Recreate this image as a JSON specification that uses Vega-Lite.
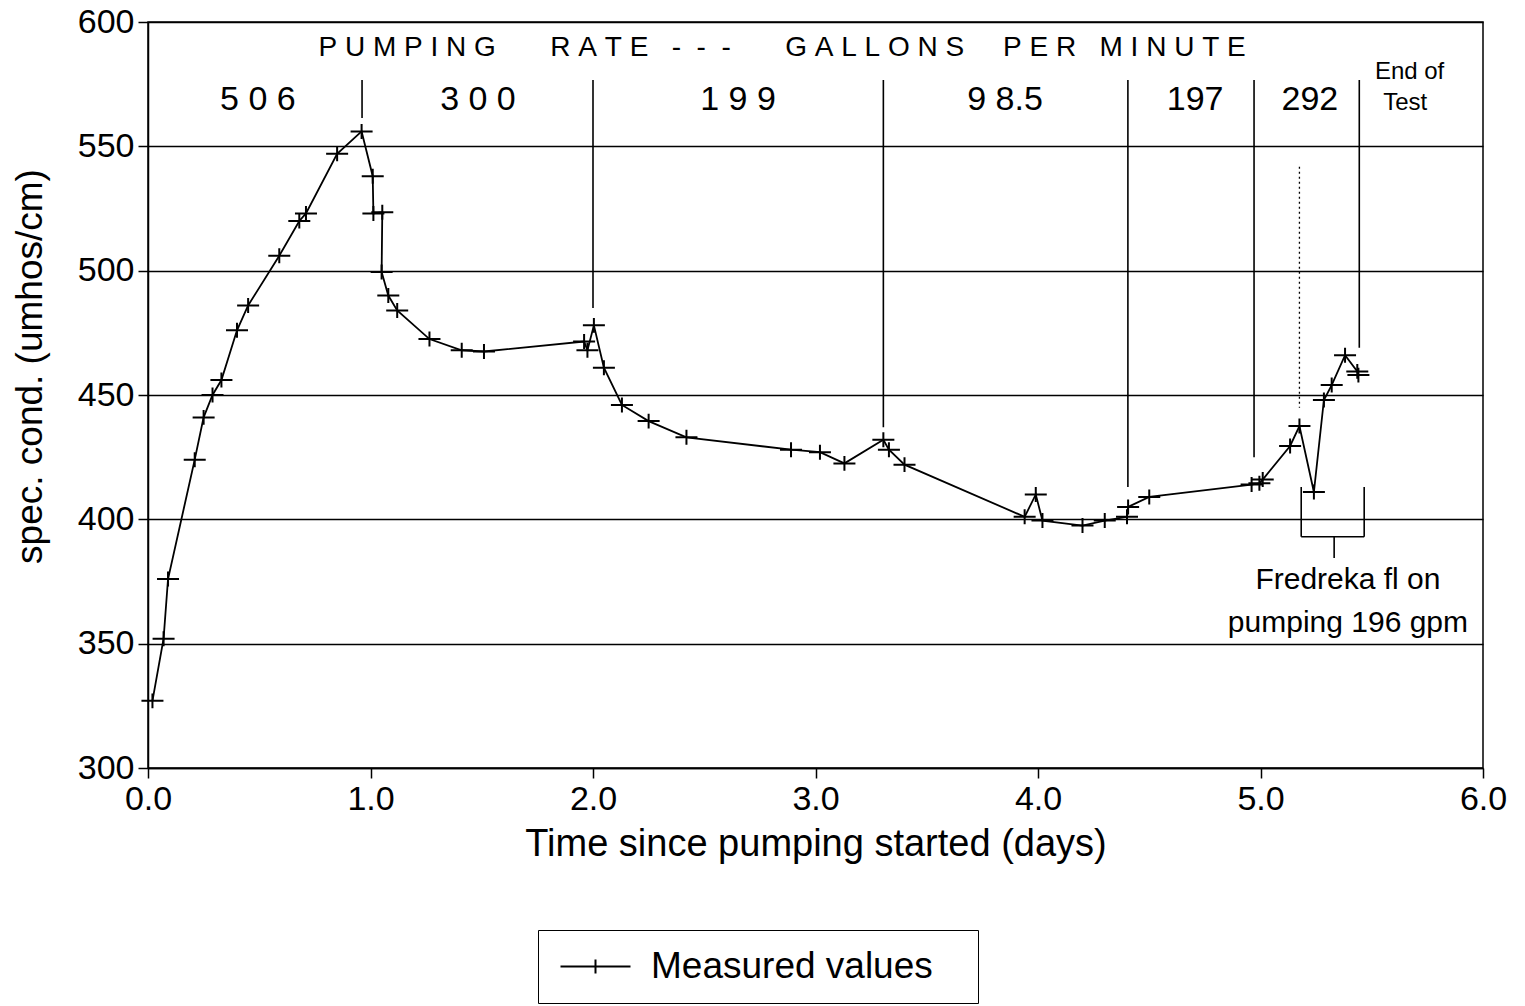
{
  "$schema": "https://vega.github.io/schema/vega-lite/v6.json",
  "autosize": {"type": "none"},
  "padding": {"left": 148, "top": 22, "right": 42, "bottom": 238},
  "width": 1335,
  "height": 746,
  "background": "white",
  "config": {
    "font": "Liberation Sans",
    "view": {"stroke": "black", "strokeWidth": 1.5},
    "axis": {
      "labelColor": "black", "titleColor": "black", "domainColor": "black", "tickColor": "black",
      "labelFontSize": 34, "titleFontSize": 37, "titleFontWeight": "normal",
      "tickSize": 10, "tickWidth": 1.5, "domainWidth": 1.5
    }
  },
  "datasets": {
    "meas": [
      {"i": 1, "t": 0.02, "c": 327},
      {"i": 2, "t": 0.07, "c": 352},
      {"i": 3, "t": 0.09, "c": 376},
      {"i": 4, "t": 0.21, "c": 424},
      {"i": 5, "t": 0.25, "c": 441},
      {"i": 6, "t": 0.29, "c": 450},
      {"i": 7, "t": 0.33, "c": 456},
      {"i": 8, "t": 0.40, "c": 476},
      {"i": 9, "t": 0.45, "c": 486},
      {"i": 10, "t": 0.59, "c": 506},
      {"i": 11, "t": 0.68, "c": 520},
      {"i": 12, "t": 0.71, "c": 523},
      {"i": 13, "t": 0.85, "c": 547},
      {"i": 14, "t": 0.96, "c": 556},
      {"i": 15, "t": 1.01, "c": 538},
      {"i": 16, "t": 1.013, "c": 523},
      {"i": 17, "t": 1.053, "c": 523.5},
      {"i": 18, "t": 1.05, "c": 499.5},
      {"i": 19, "t": 1.08, "c": 490},
      {"i": 20, "t": 1.12, "c": 484},
      {"i": 21, "t": 1.265, "c": 472.5},
      {"i": 22, "t": 1.41, "c": 468},
      {"i": 23, "t": 1.51, "c": 467.5},
      {"i": 24, "t": 1.96, "c": 471.5},
      {"i": 25, "t": 1.975, "c": 468},
      {"i": 26, "t": 2.004, "c": 478},
      {"i": 27, "t": 2.049, "c": 461},
      {"i": 28, "t": 2.13, "c": 446},
      {"i": 29, "t": 2.25, "c": 439.5},
      {"i": 30, "t": 2.42, "c": 433},
      {"i": 31, "t": 2.89, "c": 428},
      {"i": 32, "t": 3.02, "c": 427},
      {"i": 33, "t": 3.13, "c": 422.5},
      {"i": 34, "t": 3.305, "c": 432},
      {"i": 35, "t": 3.33, "c": 428},
      {"i": 36, "t": 3.40, "c": 422},
      {"i": 37, "t": 3.94, "c": 401},
      {"i": 38, "t": 3.99, "c": 410},
      {"i": 39, "t": 4.02, "c": 399.5},
      {"i": 40, "t": 4.20, "c": 397.5},
      {"i": 41, "t": 4.30, "c": 399.5},
      {"i": 42, "t": 4.40, "c": 401},
      {"i": 43, "t": 4.405, "c": 405},
      {"i": 44, "t": 4.50, "c": 409},
      {"i": 45, "t": 4.96, "c": 414},
      {"i": 46, "t": 4.995, "c": 414.5},
      {"i": 47, "t": 5.01, "c": 416},
      {"i": 48, "t": 5.133, "c": 429.5},
      {"i": 49, "t": 5.175, "c": 437.5},
      {"i": 50, "t": 5.24, "c": 411},
      {"i": 51, "t": 5.285, "c": 448},
      {"i": 52, "t": 5.32, "c": 454},
      {"i": 53, "t": 5.38, "c": 466},
      {"i": 54, "t": 5.435, "c": 459.5},
      {"i": 55, "t": 5.44, "c": 458}
    ],
    "segs": [
      {"x": 0.962, "y": 576.7, "x2": 0.962, "y2": 561.4},
      {"x": 2.0, "y": 576.7, "x2": 2.0, "y2": 485},
      {"x": 3.305, "y": 576.7, "x2": 3.305, "y2": 437},
      {"x": 4.404, "y": 576.7, "x2": 4.404, "y2": 413},
      {"x": 4.971, "y": 576.7, "x2": 4.971, "y2": 425},
      {"x": 5.444, "y": 576.7, "x2": 5.444, "y2": 469},
      {"x": 5.183, "y": 413, "x2": 5.183, "y2": 393},
      {"x": 5.466, "y": 413, "x2": 5.466, "y2": 393},
      {"x": 5.183, "y": 393, "x2": 5.466, "y2": 393},
      {"x": 5.331, "y": 393, "x2": 5.331, "y2": 384.5}
    ],
    "dotted": [
      {"x": 5.175, "y": 541.8, "x2": 5.175, "y2": 444.9}
    ],
    "hdr": [
      {"x": 2.85, "y": 589.5, "label": "P\u00a0U\u00a0M\u00a0P\u00a0I\u00a0N\u00a0G\u00a0\u00a0\u00a0\u00a0\u00a0\u00a0\u00a0R\u00a0A\u00a0T\u00a0E\u00a0\u00a0\u00a0-\u00a0\u00a0-\u00a0\u00a0-\u00a0\u00a0\u00a0\u00a0\u00a0\u00a0\u00a0G\u00a0A\u00a0L\u00a0L\u00a0O\u00a0N\u00a0S\u00a0\u00a0\u00a0\u00a0\u00a0P\u00a0E\u00a0R\u00a0\u00a0\u00a0M\u00a0I\u00a0N\u00a0U\u00a0T\u00a0E"}
    ],
    "rates": [
      {"x": 0.494, "y": 568.6, "label": "5 0 6"},
      {"x": 1.483, "y": 568.6, "label": "3 0 0"},
      {"x": 2.652, "y": 568.6, "label": "1 9 9"},
      {"x": 3.852, "y": 568.6, "label": "9 8.5"},
      {"x": 4.706, "y": 568.6, "label": "197"},
      {"x": 5.222, "y": 568.6, "label": "292"}
    ],
    "endtest": [
      {"x": 5.67, "y": 580, "label": "End of"},
      {"x": 5.65, "y": 567.5, "label": "Test"}
    ],
    "note": [
      {"x": 5.393, "y": 375.5, "label": "Fredreka fl on"},
      {"x": 5.393, "y": 358.5, "label": "pumping 196 gpm"}
    ]
  },
  "encoding": {
    "x": {
      "field": "x", "type": "quantitative",
      "scale": {"domain": [0, 6], "nice": false, "zero": false},
      "axis": {
        "title": "Time since pumping started (days)", "titleFontSize": 38,
        "values": [0, 1, 2, 3, 4, 5, 6], "format": ".1f",
        "grid": false, "labelPadding": 4, "titlePadding": 9, "labelFlush": false
      }
    },
    "y": {
      "field": "y", "type": "quantitative",
      "scale": {"domain": [300, 600], "nice": false, "zero": false},
      "axis": {
        "title": "spec. cond. (umhos/cm)",
        "values": [300, 350, 400, 450, 500, 550, 600],
        "grid": true, "gridColor": "black", "gridWidth": 1.4, "gridOpacity": 1,
        "labelPadding": 4, "titleX": -118, "titleY": 344, "titleBaseline": "middle"
      }
    }
  },
  "layer": [
    {
      "data": {"name": "segs"},
      "mark": {"type": "rule", "color": "black", "strokeWidth": 1.6},
      "encoding": {
        "x2": {"field": "x2"},
        "y2": {"field": "y2"}
      }
    },
    {
      "data": {"name": "dotted"},
      "mark": {"type": "rule", "color": "black", "strokeWidth": 1.3, "strokeDash": [2, 3]},
      "encoding": {
        "x2": {"field": "x2"},
        "y2": {"field": "y2"}
      }
    },
    {
      "data": {"name": "meas"},
      "mark": {"type": "line", "color": "black", "strokeWidth": 1.8},
      "encoding": {
        "x": {"field": "t", "type": "quantitative"},
        "y": {"field": "c", "type": "quantitative"},
        "order": {"field": "i", "type": "quantitative"}
      }
    },
    {
      "data": {"name": "meas"},
      "mark": {"type": "point", "shape": "M-1,0H1M0,-0.68V0.68", "size": 484, "filled": false, "strokeWidth": 2, "opacity": 1},
      "encoding": {
        "x": {"field": "t", "type": "quantitative"},
        "y": {"field": "c", "type": "quantitative"},
        "color": {
          "datum": "Measured values",
          "scale": {"range": ["black"]},
          "legend": {
            "title": null, "orient": "none", "legendX": 390, "legendY": 908,
            "padding": 18, "strokeColor": "black", "fillColor": "white",
            "symbolType": "M-1,0H4M1.5,-0.5V0.5", "symbolSize": 784, "symbolStrokeWidth": 2,
            "symbolStrokeColor": "black",
            "labelFontSize": 37, "labelOffset": 58, "labelColor": "black", "labelLimit": 600,
            "labelExpr": "datum.label + '\u2800'"
          }
        }
      }
    },
    {
      "data": {"name": "hdr"},
      "mark": {"type": "text", "fontSize": 28, "align": "center", "baseline": "middle", "color": "black"},
      "encoding": {"text": {"field": "label"}}
    },
    {
      "data": {"name": "rates"},
      "mark": {"type": "text", "fontSize": 34, "align": "center", "baseline": "middle", "color": "black"},
      "encoding": {"text": {"field": "label"}}
    },
    {
      "data": {"name": "endtest"},
      "mark": {"type": "text", "fontSize": 24, "align": "center", "baseline": "middle", "color": "black"},
      "encoding": {"text": {"field": "label"}}
    },
    {
      "data": {"name": "note"},
      "mark": {"type": "text", "fontSize": 30, "align": "center", "baseline": "middle", "color": "black"},
      "encoding": {"text": {"field": "label"}}
    }
  ]
}
